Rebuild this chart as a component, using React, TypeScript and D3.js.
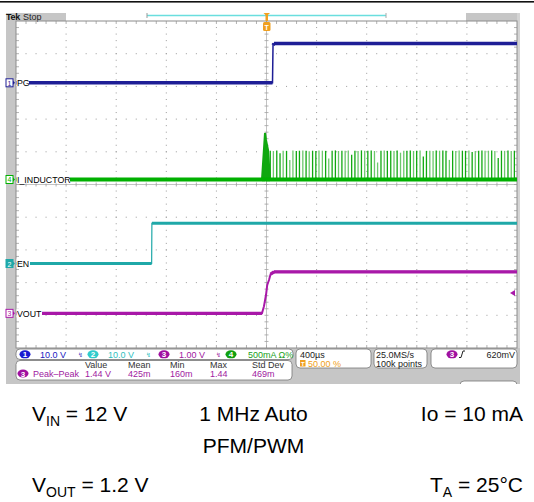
import React from 'react';
import * as d3 from 'd3';

// ---------- data (time in µs, trigger at 0) ----------
const timeRange = [-2000, 2000];
const pgTime = [-2000, 48, 52, 60, 2000];
const pgVolt = [0, 0, 11.5, 12.0, 12.0];
const enTime = [-2000, -917, -915, 2000];
const enVolt = [0, 0, 12.3, 12.3];
const voutTime = [-2000, -36, -20, -4, 6, 20, 33, 60, 2000];
const voutVolt = [0, 0, 0.22, 0.56, 0.87, 1.02, 1.2, 1.27, 1.27];
const ilTime = [-2000, -36, -12, -4, 12, 28, 2000];
const ilAmp = [0, 0, 711, 604, 451, 0, 0];
const pulseTime = [30, 55, 82, 108, 133, 160, 186, 211, 238, 263,
  290, 316, 341, 368, 394, 419, 446, 472, 497, 524,
  550, 575, 602, 628, 653, 680, 706, 731, 758, 784,
  809, 836, 862, 887, 914, 940, 965, 992, 1018, 1043,
  1070, 1096, 1121, 1148, 1174, 1199, 1226, 1252, 1277, 1304,
  1330, 1355, 1382, 1408, 1433, 1460, 1486, 1511, 1538, 1564,
  1589, 1616, 1642, 1667, 1694, 1720, 1745, 1772, 1798, 1823,
  1850, 1876, 1901, 1928, 1954, 1979];
const pulsePeak = [440, 435, 445, 400, 440, 438, 300, 442, 436, 440,
  445, 438, 430, 440, 436, 442, 440, 438, 320, 440,
  445, 436, 440, 438, 442, 380, 440, 436, 445, 440,
  438, 442, 436, 260, 440, 445, 438, 440, 436, 442,
  410, 440, 438, 445, 436, 440, 442, 350, 438, 440,
  436, 445, 440, 442, 438, 300, 440, 436, 445, 440,
  438, 442, 420, 436, 440, 445, 438, 440, 442, 436,
  330, 440, 438, 445, 436, 440];
const pulseShade = [1, 0, 1, 1, 0, 1, 0, 0, 1, 1,
  0, 1, 0, 1, 1, 0, 0, 1, 0, 1,
  1, 0, 1, 0, 0, 1, 1, 0, 1, 0,
  1, 1, 0, 0, 1, 0, 1, 1, 0, 1,
  0, 0, 1, 1, 0, 1, 0, 1, 1, 0,
  0, 1, 0, 1, 1, 0, 1, 0, 0, 1,
  1, 0, 1, 0, 1, 1, 0, 0, 1, 0,
  1, 1, 0, 1, 0, 1];
const trigLevel = 0.62;

const measHeaders = ['Value', 'Mean', 'Min', 'Max', 'Std Dev'];
const measValues = ['1.44 V', '425m', '160m', '1.44', '469m'];

// ---------- layout ----------
const X0 = 16, X1 = 517, Y0 = 21, Y1 = 348;
const divW = (X1 - X0) / 10, divH = (Y1 - Y0) / 10;
const CY = Y0 + 5 * divH;
const FONT = 'Liberation Sans, Arial, sans-serif';

const CH = {
  pg: { color: '#1e1e96', perDiv: 10, gnd: 3.11 },
  il: { color: '#00b000', perDiv: 500, gnd: 0.153 },
  en: { color: '#1fa8a8', perDiv: 10, gnd: -2.416 },
  vout: { color: '#a818a8', perDiv: 1, gnd: -3.94 },
};

const x = d3.scaleLinear().domain(timeRange).range([X0, X1]);
const yScale = (ch: any) => {
  const g = CY - ch.gnd * divH;
  return d3.scaleLinear().domain([0, ch.perDiv]).range([g, g - divH]);
};
const line = d3.line();

function Trace({ t, v, ch, thin, thick }: any) {
  const y = yScale(ch);
  const pts: [number, number][] = t.map((ti: number, i: number) => [x(ti), y(v[i])]);
  const segs: [number, number][][] = [];
  for (let i = 0; i < pts.length - 1; i++) {
    if (Math.abs(pts[i + 1][1] - pts[i][1]) < 3) segs.push([pts[i], pts[i + 1]]);
  }
  return (
    <g>
      <path d={line(pts) || ''} stroke={ch.color} strokeWidth={thin} fill="none" />
      {segs.map((s, i) => (
        <path key={i} d={line(s) || ''} stroke={ch.color} strokeWidth={thick} fill="none" />
      ))}
    </g>
  );
}

function Grid() {
  const els: any[] = [];
  const gc = '#9a9a9a';
  for (let i = 1; i < 10; i++) {
    if (i === 5) continue;
    const gx = X0 + i * divW;
    for (let k = 1; k < 50; k++) {
      els.push(<rect key={`v${i}-${k}`} x={gx - 0.5} y={Y0 + (k * divH) / 5 - 0.5} width={1} height={1} fill={gc} />);
    }
    const gy = Y0 + i * divH;
    for (let k = 1; k < 50; k++) {
      els.push(<rect key={`h${i}-${k}`} x={X0 + (k * divW) / 5 - 0.5} y={gy - 0.5} width={1} height={1} fill={gc} />);
    }
  }
  const cx = X0 + 5 * divW;
  els.push(<line key="cv" x1={cx} x2={cx} y1={Y0} y2={Y1} stroke="#b4b4b4" strokeWidth={0.8} />);
  els.push(<line key="ch" x1={X0} x2={X1} y1={CY} y2={CY} stroke="#b4b4b4" strokeWidth={0.8} />);
  for (let k = 1; k < 50; k++) {
    const ty = Y0 + (k * divH) / 5;
    const tx = X0 + (k * divW) / 5;
    els.push(<line key={`ct${k}`} x1={cx - 2} x2={cx + 2} y1={ty} y2={ty} stroke="#a0a0a0" strokeWidth={0.8} />);
    els.push(<line key={`ch${k}`} x1={tx} x2={tx} y1={CY - 2} y2={CY + 2} stroke="#a0a0a0" strokeWidth={0.8} />);
    els.push(<line key={`bl${k}`} x1={X0} x2={X0 + 3} y1={ty} y2={ty} stroke="#a0a0a0" strokeWidth={0.8} />);
    els.push(<line key={`br${k}`} x1={X1 - 3} x2={X1} y1={ty} y2={ty} stroke="#a0a0a0" strokeWidth={0.8} />);
    els.push(<line key={`bt${k}`} x1={tx} x2={tx} y1={Y0} y2={Y0 + 3} stroke="#a0a0a0" strokeWidth={0.8} />);
    els.push(<line key={`bb${k}`} x1={tx} x2={tx} y1={Y1 - 3} y2={Y1} stroke="#a0a0a0" strokeWidth={0.8} />);
  }
  els.push(<rect key="border" x={X0} y={Y0} width={X1 - X0} height={Y1 - Y0} fill="none" stroke="#8c8c8c" strokeWidth={1} />);
  return <g>{els}</g>;
}

function ChLabel({ ch, num, name, coverTo, filled }: any) {
  const gy = yScale(ch)(0);
  return (
    <g fontFamily={FONT}>
      <rect x={X0 + 0.5} y={gy - 5} width={coverTo - X0 - 0.5} height={9} fill="#fff" />
      <rect x={6} y={gy - 4} width={7} height={8} fill={filled ? ch.color : '#fff'} stroke={ch.color} strokeWidth={1} />
      <text x={9.5} y={gy + 3} fontSize={7} textAnchor="middle" fill={filled ? '#fff' : ch.color}>{num}</text>
      <path d={`M13,${gy - 2} L15,${gy} L13,${gy + 2}`} fill={ch.color} />
      <text x={17} y={gy + 3.5} fontSize={8.8} fill="#000">{name}</text>
    </g>
  );
}

function Oval({ cx, cy, color, n }: any) {
  return (
    <g>
      <ellipse cx={cx} cy={cy} rx={5.5} ry={4} fill={color} />
      <text x={cx} y={cy + 3} fontSize={8} textAnchor="middle" fill="#fff" fontWeight="bold">{n}</text>
    </g>
  );
}

export default function App() {
  const ilY = yScale(CH.il);
  const vY = yScale(CH.vout);
  const spikePts: [number, number][] = ilTime.slice(1, 6).map((t, i) => [x(t), ilY(ilAmp[i + 1])]);
  const trigX = x(0);
  const gray = '#c6c6c6';
  const measX = [85, 128, 170, 210, 252];
  return (
    <svg width={534} height={502} style={{ position: 'absolute', left: 0, top: 0, background: '#fff' }} fontFamily={FONT}>
      <rect x={0} y={1} width={534} height={1.6} fill="#111" />
      {/* bezel */}
      <rect x={6} y={13} width={60} height={8} fill={gray} />
      <rect x={6} y={13} width={10} height={371} fill={gray} />
      <rect x={466} y={13} width={54} height={8} fill={gray} />
      <rect x={517} y={13} width={3} height={371} fill="#d4d4d4" />
      <rect x={6} y={348} width={514} height={36} fill={gray} />
      <rect x={X0} y={Y0} width={X1 - X0} height={Y1 - Y0} fill="#fff" />
      <text x={6} y={20} fontSize={9} fontWeight="bold" fill="#111" letterSpacing={-0.3}>Tek</text>
      <text x={23} y={20} fontSize={9} fill="#222">Stop</text>
      <line x1={147} x2={386} y1={15.5} y2={15.5} stroke="#6adede" strokeWidth={1.5} />
      <line x1={147} x2={147} y1={13} y2={18} stroke="#999" strokeWidth={1} />
      <line x1={386} x2={386} y1={13} y2={18} stroke="#aaa" strokeWidth={1} />
      <Grid />
      {/* traces */}
      <Trace t={enTime} v={enVolt} ch={CH.en} thin={1.2} thick={3} />
      <Trace t={voutTime} v={voutVolt} ch={CH.vout} thin={2} thick={3.2} />
      <Trace t={pgTime} v={pgVolt} ch={CH.pg} thin={1.5} thick={3.5} />
      {pulseTime.map((t, i) => (
        <line key={i} x1={x(t)} x2={x(t)} y1={ilY(0)} y2={ilY(pulsePeak[i])}
          stroke={pulseShade[i] ? '#10a810' : '#6cc86c'} strokeWidth={1.3} />
      ))}
      <path d={(line(spikePts) || '') + 'Z'} fill="#10a810" stroke="#10a810" strokeWidth={2} />
      <Trace t={ilTime} v={ilTime.map((_, i) => (i >= 2 && i <= 4 ? 0 : ilAmp[i]))} ch={CH.il} thin={3.2} thick={4.2} />
      {/* labels */}
      <ChLabel ch={CH.pg} num="1" name="PG" coverTo={29} />
      <ChLabel ch={CH.il} num="4" name="I_INDUCTOR" coverTo={70} />
      <ChLabel ch={CH.en} num="2" name="EN" coverTo={30} filled />
      <ChLabel ch={CH.vout} num="3" name="VOUT" coverTo={42} />
      {/* trigger markers */}
      <rect x={trigX - 1} y={13} width={2.5} height={8} fill="#f0a020" />
      <path d={`M${trigX - 3},13 L${trigX + 3.5},13 L${trigX + 0.25},16 Z`} fill="#f0a020" />
      <rect x={trigX - 3.5} y={22} width={7.5} height={9} rx={1.5} fill="#f0a020" />
      <text x={trigX + 0.25} y={29.5} fontSize={7} textAnchor="middle" fill="#fff" fontWeight="bold">T</text>
      <path d={`M510,${vY(trigLevel)} L515,${vY(trigLevel) - 3} L515,${vY(trigLevel) + 3} Z`} fill={CH.vout.color} />
      {/* bottom readouts */}
      <rect x={16} y={349} width={277} height={10.5} rx={4} fill="#fff" stroke="#777" strokeWidth={0.8} />
      <g fontSize={9}>
        <Oval cx={25} cy={354.3} color="#1a1ad0" n="1" />
        <text x={40} y={357.5} fill="#2020c0">10.0 V</text>
        <text x={78} y={357} fontSize={6} fill="#4040c0" fontFamily="DejaVu Sans">↯</text>
        <Oval cx={93} cy={354.3} color="#30cccc" n="2" />
        <text x={108} y={357.5} fill="#30c0c0">10.0 V</text>
        <text x={146} y={357} fontSize={6} fill="#30c0c0" fontFamily="DejaVu Sans">↯</text>
        <Oval cx={164} cy={354.3} color="#a010a0" n="3" />
        <text x={179} y={357.5} fill="#a020a0">1.00 V</text>
        <text x={216} y={357} fontSize={6} fill="#a020a0" fontFamily="DejaVu Sans">↯</text>
        <Oval cx={231} cy={354.3} color="#10a010" n="4" />
        <text x={248} y={357.5} fill="#20a020">500mA Ω%</text>
      </g>
      <rect x={16} y={360.5} width={276} height={19.5} rx={4} fill="#fff" stroke="#777" strokeWidth={0.8} />
      <g fontSize={9}>
        {measHeaders.map((h, i) => <text key={h} x={measX[i]} y={367.5} fill="#333">{h}</text>)}
        <Oval cx={23} cy={373.5} color="#a010a0" n="3" />
        <text x={33} y={376.5} fill="#a020a0">Peak–Peak</text>
        {measValues.map((v, i) => <text key={i} x={measX[i]} y={376.5} fill="#a020a0">{v}</text>)}
      </g>
      <rect x={296} y={349} width={75} height={19} rx={4} fill="#fff" stroke="#777" strokeWidth={0.8} />
      <text x={300} y={357.5} fontSize={9} fill="#222">400µs</text>
      <rect x={300} y={360} width={5.5} height={6.5} fill="#f0a020" />
      <text x={302.75} y={365.7} fontSize={6} textAnchor="middle" fill="#fff" fontWeight="bold">T</text>
      <text x={308} y={366.5} fontSize={9} fill="#f0a020">50.00 %</text>
      <rect x={374} y={349} width={53} height={19} rx={4} fill="#fff" stroke="#777" strokeWidth={0.8} />
      <text x={376} y={357.5} fontSize={9} fill="#222">25.0MS/s</text>
      <text x={376} y={366.5} fontSize={9} fill="#222">100k points</text>
      <rect x={431} y={349} width={86} height={19} rx={4} fill="#fff" stroke="#777" strokeWidth={0.8} />
      <Oval cx={452} cy={354.3} color="#a010a0" n="3" />
      <path d="M459,357.5 L461,357.5 L463,351 L465,351" stroke="#222" strokeWidth={1} fill="none" />
      <text x={515} y={357.5} fontSize={9} textAnchor="end" fill="#222">620mV</text>
      <rect x={460} y={381} width={57} height={10} rx={4} fill="#fff" stroke="#777" strokeWidth={0.8} />
      <rect x={0} y={384} width={534} height={118} fill="#fff" />
      {/* caption */}
      <g fontSize={21} fill="#000">
        <text x={32} y={421}>V<tspan fontSize={14} dy={5}>IN</tspan><tspan dy={-5}> = 12 V</tspan></text>
        <text x={253.5} y={421} textAnchor="middle">1 MHz Auto</text>
        <text x={253.5} y={453} textAnchor="middle">PFM/PWM</text>
        <text x={523} y={421} textAnchor="end">Io = 10 mA</text>
        <text x={32} y={492}>V<tspan fontSize={14} dy={5}>OUT</tspan><tspan dy={-5}> = 1.2 V</tspan></text>
        <text x={523} y={492} textAnchor="end">T<tspan fontSize={14} dy={5}>A</tspan><tspan dy={-5}> = 25°C</tspan></text>
      </g>
    </svg>
  );
}
